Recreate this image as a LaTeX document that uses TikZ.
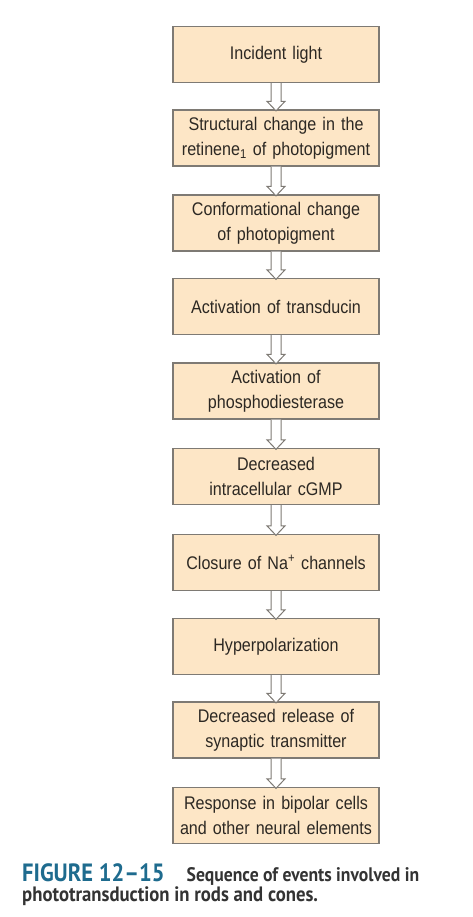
\documentclass[tikz,border=0pt]{standalone}
\usepackage{fontspec}
\usetikzlibrary{calc}
\newfontfamily\boxfont[FakeStretch=0.88]{Liberation Sans}
\newfontfamily\capfont[FakeStretch=0.9]{PT Sans}
\definecolor{boxfill}{HTML}{FDE6C6}
\definecolor{boxedge}{HTML}{7E7A74}
\definecolor{figblue}{HTML}{1E6B8E}
\definecolor{txtcol}{HTML}{2C2823}
\definecolor{capcol}{HTML}{333333}
\begin{document}
\begin{tikzpicture}[x=1pt,y=-1pt,
  stepbox/.style={rectangle, draw=boxedge, line width=1.3pt, fill=boxfill,
    minimum width=206pt, minimum height=56pt, text width=204pt, align=center,
    inner sep=0pt, text=txtcol, font=\boxfont\fontsize{18.3}{25}\selectfont},
  harrow/.style={draw=boxedge, line width=1pt, fill=white, line join=miter}]
\useasboundingbox (0,0) rectangle (472,917);
\node[stepbox] (n1) at (276,54.5) {Incident light};
\node[stepbox] (n2) at (276,138) {Structural change in the\\retinene\textsubscript{1} of photopigment};
\node[stepbox] (n3) at (276,223) {Conformational change\\of photopigment};
\node[stepbox] (n4) at (276,306.5) {Activation of transducin};
\node[stepbox] (n5) at (276,391) {Activation of\\phosphodiesterase};
\node[stepbox] (n6) at (276,476.5) {Decreased\\intracellular cGMP};
\node[stepbox] (n7) at (276,562.5) {Closure of Na\textsuperscript{+} channels};
\node[stepbox] (n8) at (276,646.5) {Hyperpolarization};
\node[stepbox] (n9) at (276,730) {Decreased release of\\synaptic transmitter};
\node[stepbox] (n10) at (276,815.5) {Response in bipolar cells\\and other neural elements};
\foreach \a/\b in {n1/n2,n2/n3,n3/n4,n4/n5,n5/n6,n6/n7,n7/n8,n8/n9,n9/n10}{
  \draw[harrow] ($(\a.south)+(-5,0)$) -- ($(\b.north)+(-5,-8)$) -- ($(\b.north)+(-9,-8)$)
    -- ($(\b.north)+(0,1.5)$) -- ($(\b.north)+(9,-8)$) -- ($(\b.north)+(5,-8)$)
    -- ($(\a.south)+(5,0)$);
}
\node[anchor=base west, inner sep=0pt, text=capcol] (cap1) at (22,881)
  {\capfont\bfseries{\color{figblue}\fontsize{25}{28}\selectfont FIGURE 12–15}\hspace{22pt}{\fontsize{19.6}{24}\selectfont Sequence of events involved in}};
\node[anchor=base west, inner sep=0pt, text=capcol] (cap2) at (22,901)
  {\capfont\bfseries\fontsize{20.8}{24}\selectfont phototransduction in rods and cones.};
\end{tikzpicture}
\end{document}
